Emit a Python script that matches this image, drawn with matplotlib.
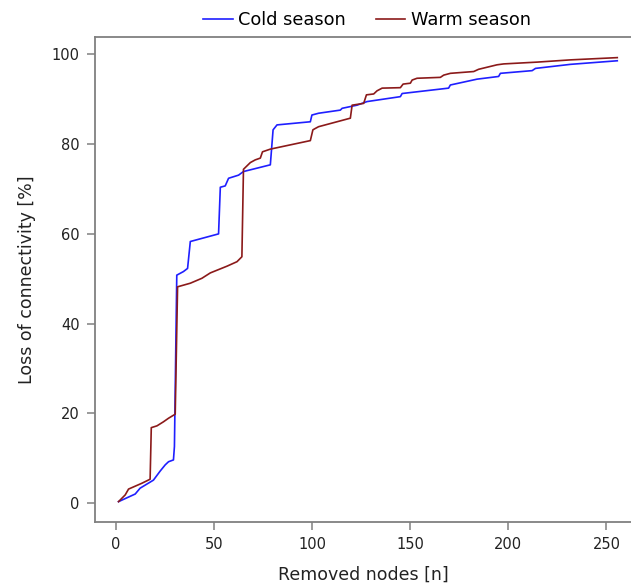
import matplotlib
matplotlib.use("Agg")
import matplotlib.pyplot as plt

# cold season curve (removed nodes, loss %)
cold_x = [1.2, 9.7, 12.2, 19.0, 22.4, 25.0, 26.7, 29.2, 29.7, 30.9, 34.3, 36.4,
          37.8, 52.2, 53.1, 55.6, 57.3, 62.4, 64.9, 78.6, 80.0, 82.0, 99.0, 99.8,
          103.2, 114.3, 115.2, 122.8, 127.9, 144.9, 145.8, 169.5, 170.4, 184.0,
          195.0, 195.9, 212.1, 213.8, 231.6, 255.5]
cold_y = [0.3, 2.0, 3.3, 5.1, 7.1, 8.5, 9.2, 9.6, 12.6, 50.8, 51.6, 52.3,
          58.3, 60.0, 70.4, 70.7, 72.4, 73.1, 73.9, 75.4, 83.2, 84.3, 85.0, 86.5,
          86.9, 87.6, 88.0, 88.7, 89.5, 90.6, 91.3, 92.5, 93.2, 94.5,
          95.1, 95.8, 96.4, 96.9, 97.8, 98.6]

# warm season curve
warm_x = [1.2, 4.6, 6.3, 13.1, 17.3, 17.9, 20.8, 24.1, 26.7, 30.1, 31.3, 37.8,
          43.7, 48.0, 56.5, 61.6, 64.1, 64.9, 68.4, 70.9, 73.5, 74.6, 78.6, 99.0,
          100.3, 101.5, 103.2, 119.4, 120.3, 126.2, 127.6, 131.3, 133.0, 135.6,
          144.9, 146.3, 150.0, 150.9, 153.4, 165.3, 167.0, 170.4, 182.3, 184.8,
          194.2, 197.6, 214.6, 231.6, 255.5]
warm_y = [0.3, 1.8, 3.1, 4.4, 5.3, 16.8, 17.2, 18.1, 18.9, 19.8, 48.2, 49.0,
          50.1, 51.3, 52.8, 53.8, 54.9, 74.4, 75.9, 76.5, 76.9, 78.3, 78.9, 80.8,
          83.2, 83.5, 83.9, 85.8, 88.7, 89.1, 91.0, 91.2, 91.9, 92.5,
          92.6, 93.4, 93.6, 94.3, 94.7, 94.9, 95.4, 95.8, 96.2, 96.7,
          97.7, 97.9, 98.3, 98.8, 99.3]

x_ticks = [0, 50, 100, 150, 200, 250]
y_ticks = [0, 20, 40, 60, 80, 100]

plt.rcParams['font.family'] = ['DejaVu Sans']

fig = plt.figure(figsize=(6.31, 5.86), dpi=100)
ax = fig.add_axes([95/631, 64/586, 536/631, 485/586])

ax.plot(cold_x, cold_y, color='#1f1fff', lw=1.2, label='Cold season')
ax.plot(warm_x, warm_y, color='#8b1a1a', lw=1.2, label='Warm season')

ax.set_xlim(-10.8, 262.5)
ax.set_ylim(-4.24, 103.9)
ax.set_xticks(x_ticks)
ax.set_yticks(y_ticks)

for s in ['left', 'bottom', 'top']:
    ax.spines[s].set_color('#808080')
    ax.spines[s].set_linewidth(1.3)
ax.spines['right'].set_visible(False)
ax.tick_params(direction='out', length=6, width=1.1, color='#808080',
               labelsize=10.5, labelcolor='#222222', pad=5)

ax.set_xlabel('Removed nodes [n]', fontsize=12.5, color='#222222', labelpad=10)
ax.set_ylabel('Loss of connectivity [%]', fontsize=12.5, color='#222222', labelpad=11)

fig.legend(loc='center', bbox_to_anchor=(367/631, 1 - 20/586), ncol=2,
           frameon=False, fontsize=12.8, handlelength=1.65, handletextpad=0.3,
           columnspacing=1.7)

fig.savefig('out.png', dpi=100)
